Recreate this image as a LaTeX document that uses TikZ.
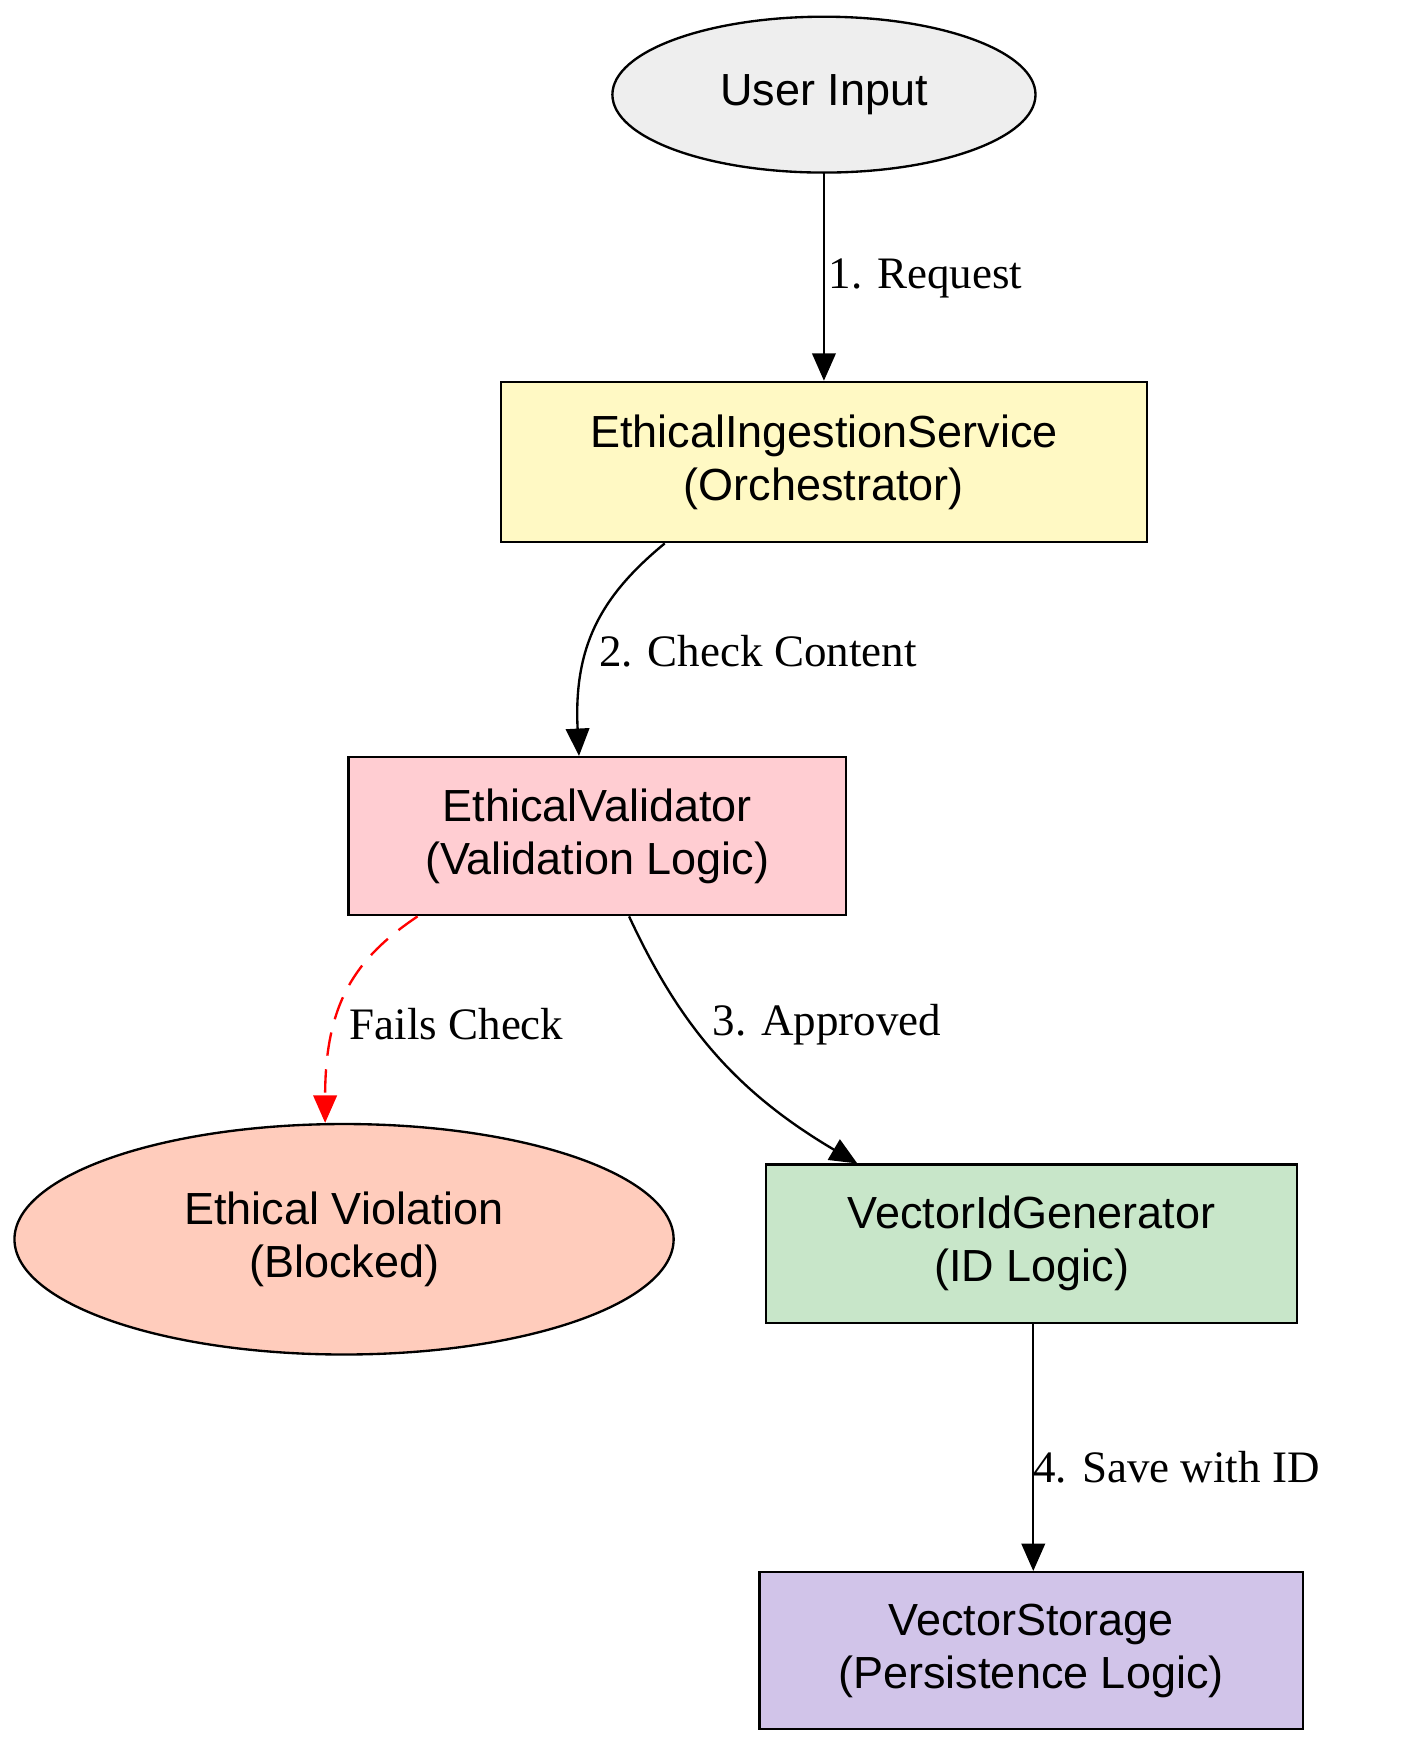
\documentclass[tikz,border=0pt]{standalone}
\usepackage{fontspec}
\setmainfont{Liberation Serif}
\setsansfont{Liberation Sans}
\usetikzlibrary{arrows.meta,shapes.geometric}
\begin{document}
\begin{tikzpicture}[x=0.02cm,y=-0.02cm,
  box/.style={draw,line width=1.2pt,rectangle,align=center,font=\sffamily\fontsize{23}{27}\selectfont,inner sep=0pt},
  ell/.style={draw,line width=1.2pt,ellipse,align=center,font=\sffamily\fontsize{23}{27}\selectfont,inner sep=0pt},
  edge/.style={line width=1.2pt,-{Triangle[length=14pt,width=12pt]}},
  lab/.style={font=\fontsize{23}{27}\selectfont,anchor=west,inner sep=1pt}]
\useasboundingbox (0,0) rectangle (1270,1578);
\node[ell,fill={rgb,255:red,238;green,238;blue,238},minimum width=380*0.02cm,minimum height=140*0.02cm] (u) at (740,85) {User Input};
\node[box,fill={rgb,255:red,255;green,249;blue,196},minimum width=580*0.02cm,minimum height=144*0.02cm] (eis) at (740,415) {EthicalIngestionService\\(Orchestrator)};
\node[box,fill={rgb,255:red,255;green,205;blue,210},minimum width=447*0.02cm,minimum height=142*0.02cm] (ev) at (536.5,751) {EthicalValidator\\(Validation Logic)};
\node[ell,fill={rgb,255:red,255;green,204;blue,188},minimum width=592*0.02cm,minimum height=207*0.02cm] (viol) at (309,1113) {Ethical Violation\\(Blocked)};
\node[box,fill={rgb,255:red,200;green,230;blue,201},minimum width=477*0.02cm,minimum height=142*0.02cm] (vig) at (926.5,1117) {VectorIdGenerator\\(ID Logic)};
\node[box,fill={rgb,255:red,209;green,196;blue,233},minimum width=488*0.02cm,minimum height=141*0.02cm] (vs) at (926,1482.5) {VectorStorage\\(Persistence Logic)};
\draw[edge] (u.south) -- (eis.north);
\node[lab] (l1) at (742,250) {1. Request};
\draw[edge] (eis.south -| 597,0) .. controls (540,535) and (515,580) .. (ev.north -| 520,0);
\node[lab] (l2) at (536,585) {2. Check Content};
\draw[edge,red,dashed,dash pattern=on 12pt off 7pt] (ev.south -| 375,0) .. controls (320,860) and (292,900) .. (viol.north -| 292,0);
\node[lab] (l3) at (312,920) {Fails Check};
\draw[edge] (ev.south -| 565,0) .. controls (610,920) and (660,980) .. (vig.north -| 770,0);
\node[lab] (l4) at (638,920) {3. Approved};
\draw[edge] (vig.south -| 928,0) -- (vs.north -| 928,0);
\node[lab] (l5) at (926,1318) {4. Save with ID};
\end{tikzpicture}
\end{document}
